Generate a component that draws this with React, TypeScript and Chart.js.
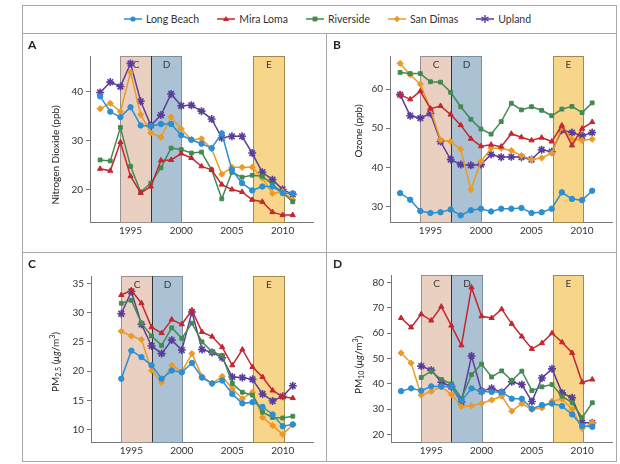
import React, { useEffect, useRef } from 'react';
import { Chart, registerables } from 'chart.js';

Chart.register(...registerables);

// ---------- data ----------
const YEARS_92 = [1992, 1993, 1994, 1995, 1996, 1997, 1998, 1999, 2000, 2001, 2002, 2003, 2004, 2005, 2006, 2007, 2008, 2009, 2010, 2011];
const YEARS_94 = [1994, 1995, 1996, 1997, 1998, 1999, 2000, 2001, 2002, 2003, 2004, 2005, 2006, 2007, 2008, 2009, 2010, 2011];
const X_TICKS = [1995, 2000, 2005, 2010];

const SITES = ['Long Beach', 'Mira Loma', 'Riverside', 'San Dimas', 'Upland'];

// Panel A: Nitrogen dioxide (ppb), 1992-2011
const no2LongBeach = [39.0, 35.9, 34.8, 36.8, 33.1, 33.0, 33.4, 33.4, 31.1, 30.2, 29.4, 28.5, 31.5, 24.1, 21.4, 19.9, 20.7, 20.7, 19.4, 19.3];
const no2MiraLoma = [24.3, 23.9, 29.7, 22.8, 19.4, 20.7, 26.0, 26.1, 27.4, 26.5, 24.8, 24.1, 21.1, 20.1, 19.6, 18.0, 17.6, 15.5, 14.9, 14.9];
const no2Riverside = [26.1, 25.9, 32.7, 24.8, 19.6, 21.4, 24.5, 28.5, 28.2, 27.5, 27.7, 24.1, 18.2, 23.6, 22.6, 23.0, 22.8, 21.1, 19.4, 17.6];
const no2SanDimas = [36.5, 37.6, 35.9, 43.9, 35.3, 31.6, 30.7, 34.8, 32.4, 30.2, 30.4, 28.4, 23.2, 24.6, 24.6, 24.6, 22.4, 19.3, 19.7, 18.0];
const no2Upland = [39.8, 41.9, 41.0, 45.7, 38.0, 33.1, 35.2, 39.5, 37.1, 37.2, 36.0, 34.4, 30.6, 30.9, 30.9, 27.5, 23.6, 22.1, 20.1, 19.1];

// Panel B: Ozone (ppb), 1992-2011
const o3LongBeach = [33.4, 31.7, 28.8, 28.3, 28.5, 29.2, 27.7, 29.0, 29.4, 28.7, 29.4, 29.4, 29.6, 28.3, 28.5, 29.4, 33.6, 31.9, 31.6, 34.0];
const o3MiraLoma = [58.6, 57.4, 59.5, 55.0, 55.7, 53.5, 50.8, 47.3, 45.4, 45.8, 45.3, 48.6, 47.7, 46.9, 47.6, 46.6, 50.7, 45.6, 49.9, 51.6];
const o3Riverside = [64.3, 64.0, 64.0, 61.9, 61.8, 59.2, 55.5, 52.3, 49.8, 48.5, 51.7, 56.4, 54.7, 55.5, 54.6, 53.2, 54.9, 55.6, 54.0, 56.5];
const o3SanDimas = [66.6, 63.7, 61.3, 55.0, 47.0, 46.6, 44.6, 34.3, 41.5, 44.9, 44.9, 44.3, 43.0, 42.0, 42.4, 43.6, 50.2, 47.2, 46.9, 47.2];
const o3Upland = [58.6, 53.2, 52.6, 53.8, 46.6, 42.0, 40.7, 40.5, 40.7, 43.3, 42.6, 42.7, 42.6, 42.0, 44.5, 44.0, 49.5, 48.9, 48.0, 48.9];

// Panel C: PM2.5 (ug/m3), 1994-2011
const pm25LongBeach = [18.7, 23.5, 22.4, 21.0, 18.7, 20.1, 19.8, 21.4, 18.9, 17.9, 18.4, 16.1, 14.5, 14.7, 13.9, 12.6, 10.6, 10.9];
const pm25MiraLoma = [33.0, 33.8, 31.6, 27.5, 26.5, 28.8, 28.0, 30.4, 26.7, 25.9, 24.1, 21.0, 23.7, 20.7, 19.0, 16.7, 15.6, 15.4];
const pm25Riverside = [31.6, 32.1, 28.2, 26.0, 24.4, 27.4, 25.6, 28.2, 25.0, 23.3, 22.7, 17.9, 16.4, 15.9, 13.0, 12.1, 12.0, 12.3];
const pm25SanDimas = [26.8, 26.0, 25.4, 20.1, 18.1, 21.0, 19.9, 23.0, 19.1, 17.9, 19.1, 17.0, 15.3, 16.4, 12.1, 10.7, 9.2, 10.9];
const pm25Upland = [29.8, 33.6, 28.0, 24.3, 23.0, 25.3, 23.6, 30.1, 23.7, 23.2, 22.3, 19.0, 18.9, 18.6, 16.1, 14.9, 15.7, 17.5];

// Panel D: PM10 (ug/m3); Long Beach, Mira Loma, San Dimas 1992-2011; Riverside, Upland 1994-2011
const pm10LongBeach = [37.1, 38.2, 37.3, 39.0, 38.9, 38.9, 33.2, 38.2, 37.0, 36.8, 36.8, 34.1, 34.1, 30.1, 31.6, 32.2, 31.2, 27.9, 23.3, 23.0];
const pm10MiraLoma = [66.0, 62.3, 67.5, 65.0, 70.5, 63.0, 55.2, 78.1, 66.7, 66.0, 69.5, 63.7, 58.7, 53.8, 56.1, 60.0, 56.4, 52.2, 40.6, 41.7];
const pm10Riverside = [42.5, 45.0, 41.7, 40.0, 34.2, 43.6, 47.8, 42.7, 45.1, 41.3, 45.0, 37.3, 38.8, 39.7, 35.1, 32.5, 26.6, 32.5];
const pm10SanDimas = [52.2, 48.2, 35.5, 37.0, 38.8, 35.8, 31.0, 31.3, 32.3, 33.6, 35.1, 29.2, 32.2, 29.9, 30.5, 33.1, 34.0, 29.9, 22.4, 24.6];
const pm10Upland = [47.0, 45.4, 40.6, 38.9, 32.8, 51.0, 37.1, 38.2, 36.6, 40.8, 39.7, 33.0, 42.3, 45.9, 36.4, 34.5, 24.6, 24.6];

// Period shading (C, D, E)
const PERIOD_LABELS = ['C', 'D', 'E'];
const PERIOD_START = [1994, 1997, 2007.1];
const PERIOD_END = [1997, 2000, 2010.1];

// ---------- styles ----------
const FONT = 'Lato, "DejaVu Sans", sans-serif';
const SITE_STYLE: Record<string, { color: string; point: any; radius: number; pw: number }> = {
  'Long Beach': { color: '#2a8fd3', point: 'circle', radius: 2.7, pw: 1 },
  'Mira Loma': { color: '#c3272f', point: 'triangle', radius: 3, pw: 1 },
  'Riverside': { color: '#438a51', point: 'rect', radius: 2.7, pw: 1 },
  'San Dimas': { color: '#eb9a28', point: 'rectRot', radius: 3.1, pw: 1 },
  'Upland': { color: '#5a3d9a', point: 'star', radius: 4, pw: 1.6 },
};
const PERIOD_FILL = ['#e9d0c0', '#aac2d3', '#f7d58a'];
const PERIOD_STROKE = ['#9a9090', '#7d8e9a', '#a08a50'];

const shadePlugin = {
  id: 'shades',
  beforeDatasetsDraw(chart: any) {
    const { ctx, chartArea } = chart;
    const xs = chart.scales.x;
    const top = chartArea.top;
    const bottom = chartArea.bottom;
    ctx.save();
    PERIOD_LABELS.forEach((lab, i) => {
      const x0 = Math.round(xs.getPixelForValue(PERIOD_START[i])) + 0.5;
      const x1 = Math.round(xs.getPixelForValue(PERIOD_END[i])) + 0.5;
      ctx.fillStyle = PERIOD_FILL[i];
      ctx.fillRect(x0, top, x1 - x0, bottom - top);
      ctx.strokeStyle = PERIOD_STROKE[i];
      ctx.lineWidth = 1;
      ctx.strokeRect(x0, top + 0.5, x1 - x0, bottom - top);
      ctx.fillStyle = '#3a3a3a';
      ctx.font = `10px ${FONT}`;
      ctx.textAlign = 'center';
      ctx.textBaseline = 'middle';
      ctx.fillText(lab, (x0 + x1) / 2, top + 9);
    });
    const xd = Math.round(xs.getPixelForValue(PERIOD_END[0])) + 0.5;
    ctx.strokeStyle = '#333';
    ctx.beginPath();
    ctx.moveTo(xd, top);
    ctx.lineTo(xd, bottom);
    ctx.stroke();
    ctx.restore();
  },
};

const richTitlePlugin = {
  id: 'richTitle',
  afterDraw(chart: any, _args: any, opts: any) {
    const segs = opts && opts.segments;
    if (!segs) return;
    const { ctx } = chart;
    const fontOf = (s: any) => `${s.italic ? 'italic ' : ''}${s.size || 10}px ${FONT}`;
    ctx.save();
    ctx.translate(opts.x, opts.y);
    ctx.rotate(-Math.PI / 2);
    let total = 0;
    segs.forEach((s: any) => {
      ctx.font = fontOf(s);
      total += ctx.measureText(s.text).width;
    });
    let cx = -total / 2;
    ctx.fillStyle = '#222';
    ctx.textBaseline = 'alphabetic';
    ctx.textAlign = 'left';
    segs.forEach((s: any) => {
      ctx.font = fontOf(s);
      ctx.fillText(s.text, cx, 3.6 + (s.dy || 0));
      cx += ctx.measureText(s.text).width;
    });
    ctx.restore();
  },
};

type PanelCfg = {
  letter: string;
  left: number; top: number; width: number; height: number;
  padTop: number; padRight: number; yWidth: number; xHeight: number;
  yMin: number; yMax: number; yTicks: number[];
  title: any[]; titleX: number; titleY: number;
  series: { site: string; years: number[]; values: number[] }[];
};

const PANELS: PanelCfg[] = [
  {
    letter: 'A', left: 22, top: 33, width: 305, height: 219,
    padTop: 23, padRight: 14, yWidth: 68, xHeight: 30,
    yMin: 13.5, yMax: 47.2, yTicks: [20, 30, 40],
    title: [{ text: 'Nitrogen Dioxide (ppb)' }], titleX: 33, titleY: 122,
    series: [
      { site: 'Long Beach', years: YEARS_92, values: no2LongBeach },
      { site: 'Mira Loma', years: YEARS_92, values: no2MiraLoma },
      { site: 'Riverside', years: YEARS_92, values: no2Riverside },
      { site: 'San Dimas', years: YEARS_92, values: no2SanDimas },
      { site: 'Upland', years: YEARS_92, values: no2Upland },
    ],
  },
  {
    letter: 'B', left: 327, top: 33, width: 291, height: 219,
    padTop: 23, padRight: 5, yWidth: 63, xHeight: 30,
    yMin: 26, yMax: 68.5, yTicks: [30, 40, 50, 60],
    title: [{ text: 'Ozone (ppb)' }], titleX: 31, titleY: 98,
    series: [
      { site: 'Long Beach', years: YEARS_92, values: o3LongBeach },
      { site: 'Mira Loma', years: YEARS_92, values: o3MiraLoma },
      { site: 'Riverside', years: YEARS_92, values: o3Riverside },
      { site: 'San Dimas', years: YEARS_92, values: o3SanDimas },
      { site: 'Upland', years: YEARS_92, values: o3Upland },
    ],
  },
  {
    letter: 'C', left: 22, top: 252, width: 305, height: 210,
    padTop: 24, padRight: 14, yWidth: 69, xHeight: 20,
    yMin: 7.9, yMax: 36.25, yTicks: [10, 15, 20, 25, 30, 35],
    title: [
      { text: 'PM' }, { text: '2.5', size: 7, dy: 2.5 }, { text: ' (' },
      { text: 'μg', italic: true }, { text: '/m' }, { text: '3', size: 7, dy: -4 }, { text: ')' },
    ],
    titleX: 33, titleY: 110,
    series: [
      { site: 'Long Beach', years: YEARS_94, values: pm25LongBeach },
      { site: 'Mira Loma', years: YEARS_94, values: pm25MiraLoma },
      { site: 'Riverside', years: YEARS_94, values: pm25Riverside },
      { site: 'San Dimas', years: YEARS_94, values: pm25SanDimas },
      { site: 'Upland', years: YEARS_94, values: pm25Upland },
    ],
  },
  {
    letter: 'D', left: 327, top: 252, width: 291, height: 210,
    padTop: 23, padRight: 4, yWidth: 64, xHeight: 20,
    yMin: 17, yMax: 83, yTicks: [20, 30, 40, 50, 60, 70, 80],
    title: [
      { text: 'PM' }, { text: '10', size: 7, dy: 2.5 }, { text: ' (' },
      { text: 'μg', italic: true }, { text: '/m' }, { text: '3', size: 7, dy: -4 }, { text: ')' },
    ],
    titleX: 31, titleY: 113,
    series: [
      { site: 'Long Beach', years: YEARS_92, values: pm10LongBeach },
      { site: 'Mira Loma', years: YEARS_92, values: pm10MiraLoma },
      { site: 'Riverside', years: YEARS_94, values: pm10Riverside },
      { site: 'San Dimas', years: YEARS_92, values: pm10SanDimas },
      { site: 'Upland', years: YEARS_94, values: pm10Upland },
    ],
  },
];

function Panel({ cfg }: { cfg: PanelCfg }) {
  const ref = useRef<HTMLCanvasElement>(null);
  useEffect(() => {
    if (!ref.current) return;
    const datasets = cfg.series.map((s) => {
      const st = SITE_STYLE[s.site];
      return {
        label: s.site,
        data: s.years.map((y, i) => ({ x: y, y: s.values[i] })),
        borderColor: st.color,
        backgroundColor: st.color,
        borderWidth: 1.5,
        pointStyle: st.point,
        pointRadius: st.radius,
        pointBackgroundColor: st.color,
        pointBorderColor: st.color,
        pointBorderWidth: st.pw,
        tension: 0,
      };
    });
    const chart = new Chart(ref.current, {
      type: 'line',
      data: { datasets },
      plugins: [shadePlugin, richTitlePlugin],
      options: {
        animation: false,
        responsive: false,
        events: [],
        layout: { padding: { top: cfg.padTop, right: cfg.padRight, left: 0, bottom: 0 } },
        plugins: {
          legend: { display: false },
          tooltip: { enabled: false },
          richTitle: { segments: cfg.title, x: cfg.titleX, y: cfg.titleY },
        } as any,
        scales: {
          x: {
            type: 'linear',
            min: 1991,
            max: 2013,
            afterBuildTicks: (s: any) => { s.ticks = X_TICKS.map((v) => ({ value: v })); },
            afterFit: (s: any) => { s.height = cfg.xHeight; },
            grid: { display: false, drawTicks: false, drawOnChartArea: false },
            border: { display: true, color: '#777', width: 1 },
            ticks: {
              font: { family: FONT, size: 10 },
              color: '#333',
              padding: 3,
              maxRotation: 0,
              autoSkip: false,
              callback: (v: any) => String(v),
            },
          },
          y: {
            type: 'linear',
            min: cfg.yMin,
            max: cfg.yMax,
            afterBuildTicks: (s: any) => { s.ticks = cfg.yTicks.map((v) => ({ value: v })); },
            afterFit: (s: any) => { s.width = cfg.yWidth; },
            grid: { display: true, drawOnChartArea: false, drawTicks: true, tickLength: 4, color: '#777' },
            border: { display: true, color: '#777', width: 1 },
            ticks: {
              font: { family: FONT, size: 10 },
              color: '#333',
              padding: 3,
              autoSkip: false,
              callback: (v: any) => String(v),
            },
          },
        },
      } as any,
    });
    return () => chart.destroy();
  }, []);
  return (
    <canvas
      ref={ref}
      width={cfg.width}
      height={cfg.height}
      style={{ position: 'absolute', left: cfg.left, top: cfg.top, width: cfg.width, height: cfg.height }}
    />
  );
}

function LegendMarker({ site }: { site: string }) {
  const st = SITE_STYLE[site];
  const c = st.color;
  const cx = 9, cy = 5;
  let mark: any = null;
  if (st.point === 'circle') mark = <circle cx={cx} cy={cy} r={2.6} fill={c} />;
  else if (st.point === 'triangle') mark = <polygon points={`${cx},${cy - 3} ${cx + 3},${cy + 2} ${cx - 3},${cy + 2}`} fill={c} />;
  else if (st.point === 'rect') mark = <rect x={cx - 2.4} y={cy - 2.4} width={4.8} height={4.8} fill={c} />;
  else if (st.point === 'rectRot') mark = <polygon points={`${cx},${cy - 3.2} ${cx + 3.2},${cy} ${cx},${cy + 3.2} ${cx - 3.2},${cy}`} fill={c} />;
  else mark = (
    <g stroke={c} strokeWidth={1.4}>
      <line x1={cx} y1={cy - 4} x2={cx} y2={cy + 4} />
      <line x1={cx - 3.5} y1={cy - 2} x2={cx + 3.5} y2={cy + 2} />
      <line x1={cx - 3.5} y1={cy + 2} x2={cx + 3.5} y2={cy - 2} />
    </g>
  );
  return (
    <svg width={18} height={10} style={{ display: 'block', marginRight: 4 }}>
      <line x1={0} y1={cy} x2={18} y2={cy} stroke={c} strokeWidth={1.5} />
      {mark}
    </svg>
  );
}

export default function App() {
  const line = '#a8a8a8';
  return (
    <div style={{ position: 'fixed', left: 0, top: 0, width: 620, height: 464, background: '#fff', overflow: 'hidden', fontFamily: FONT }}>
      {/* frame */}
      <div style={{ position: 'absolute', left: 22, top: 5, width: 595, height: 457, border: `1px solid ${line}`, boxSizing: 'border-box' }} />
      <div style={{ position: 'absolute', left: 22, top: 33, width: 595, height: 1, background: line }} />
      <div style={{ position: 'absolute', left: 22, top: 252, width: 595, height: 1, background: line }} />
      <div style={{ position: 'absolute', left: 326, top: 33, width: 1, height: 429, background: line }} />
      {/* legend */}
      <div style={{ position: 'absolute', left: 22, top: 5, width: 595, height: 28, boxSizing: 'border-box', paddingLeft: 16, display: 'flex', alignItems: 'center', justifyContent: 'center', gap: 18, fontSize: 10.5, color: '#333' }}>
        {SITES.map((s) => (
          <div key={s} style={{ display: 'flex', alignItems: 'center' }}>
            <LegendMarker site={s} />
            <span>{s}</span>
          </div>
        ))}
      </div>
      {PANELS.map((p) => (
        <React.Fragment key={p.letter}>
          <Panel cfg={p} />
          <div style={{ position: 'absolute', left: p.left + 6, top: p.top + 5, fontSize: 12, fontWeight: 700, color: '#222', lineHeight: '14px' }}>{p.letter}</div>
        </React.Fragment>
      ))}
    </div>
  );
}
